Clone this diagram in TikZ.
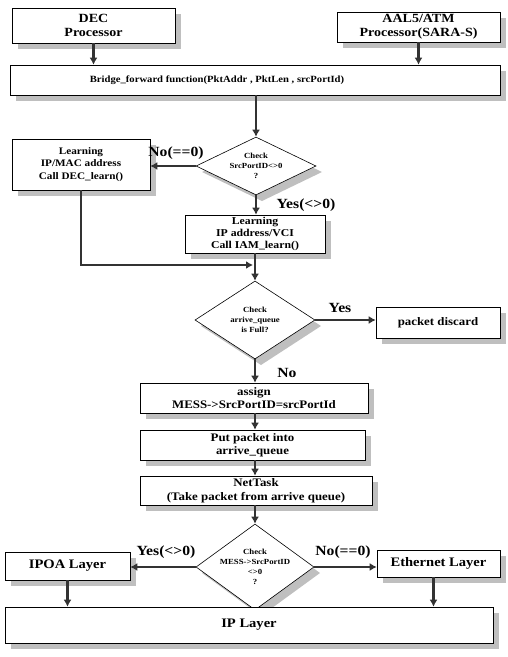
\documentclass[tikz,border=0pt]{standalone}
\usepackage{fontspec}
\setmainfont[FakeStretch=1.12]{Liberation Serif}
\usetikzlibrary{shapes.geometric,arrows.meta}
\begin{document}
\begin{tikzpicture}[x=1pt,y=-1pt,
  proc/.style={draw=black,line width=0.6pt,fill=white,inner sep=0pt,align=center,
    font=\bfseries\fontsize{11.5}{13.5}\selectfont},
  decision/.style={diamond,draw=black,line width=0.6pt,fill=white,inner sep=0pt},
  dtext/.style={align=center,inner sep=0pt,font=\bfseries\fontsize{7.8}{9.8}\selectfont},
  lbl/.style={inner sep=0pt,font=\bfseries\fontsize{14}{16}\selectfont},
  flow/.style={draw=black!80,line width=2.4pt,-{Latex[length=7pt,width=8pt]}},
]
\useasboundingbox (0,0) rectangle (508,657);

% shades laid down first, offset 6pt right and down from each box or diamond
\fill[gray!50] (18,14) rectangle (181,49);
\fill[gray!50] (343,18) rectangle (506,48);
\fill[gray!50] (16,71) rectangle (506,101);
\fill[gray!50] (18,145) rectangle (156,196);
\fill[gray!50] (191,221) rectangle (331,259);
\fill[gray!50] (382,313) rectangle (506,344);
\fill[gray!50] (146,389) rectangle (374,419);
\fill[gray!50] (146,436) rectangle (371,466);
\fill[gray!50] (146,482) rectangle (378,511);
\fill[gray!50] (11,558) rectangle (136,586);
\fill[gray!50] (383,556) rectangle (506,583);
\fill[gray!50] (11,613) rectangle (499,649);
\fill[gray!50] (262,143) -- (322,172) -- (262,201) -- (202,172) -- cycle;
\fill[gray!50] (261,287) -- (321,326) -- (261,365) -- (201,326) -- cycle;
\fill[gray!50] (261,530) -- (320,573) -- (261,616) -- (202,573) -- cycle;

% processors and bridge function
\node[proc,minimum width=163pt,minimum height=35pt,font=\bfseries\fontsize{12.5}{14}\selectfont] (dec) at (93.5,25.5) {DEC\\Processor};
\node[proc,minimum width=163pt,minimum height=30pt,font=\bfseries\fontsize{12.5}{14}\selectfont] (aal) at (418.5,27) {AAL5/ATM\\Processor(SARA-S)};
\node[proc,minimum width=490pt,minimum height=30pt] (bridge) at (255,80) {};
\node[inner sep=0pt,font=\bfseries\fontsize{9.5}{11}\selectfont] (bridget) at (217,80)
  {Bridge\_forward function(PktAddr , PktLen , srcPortId)};

% first check: source port
\node[decision,minimum width=120pt,minimum height=58pt] (d1) at (256,166) {};
\node[dtext] (d1t) at (d1.center) {Check\\SrcPortID<>0\\?};
\node[proc,minimum width=138pt,minimum height=51pt,font=\bfseries\fontsize{10}{12.5}\selectfont] (learn1) at (81,164.5)
  {Learning\\IP/MAC address\\Call DEC\_learn()};
\node[proc,minimum width=140pt,minimum height=38pt,font=\bfseries\fontsize{10.5}{12}\selectfont] (learn2) at (255,234)
  {Learning\\IP address/VCI\\Call IAM\_learn()};
\coordinate (join) at (253,265);

% second check: queue full
\node[decision,minimum width=120pt,minimum height=78pt] (d2) at (255,320) {};
\node[dtext] (d2t) at (d2.center) {Check\\arrive\_queue\\is Full?};
\node[proc,minimum width=124pt,minimum height=31pt] (discard) at (438,322.5) {packet discard};

% queueing steps
\node[proc,minimum width=228pt,minimum height=30pt] (assign) at (254,398) {assign\\MESS->SrcPortID=srcPortId};
\node[proc,minimum width=225pt,minimum height=30pt] (put) at (252.5,445) {Put packet into\\arrive\_queue};
\node[proc,minimum width=232pt,minimum height=29pt] (net) at (256,490.5) {NetTask\\(Take packet from arrive queue)};

% third check and layers
\node[decision,minimum width=118pt,minimum height=86pt] (d3) at (255,567) {};
\node[dtext] (d3t) at (d3.center) {Check\\MESS->SrcPortID\\<>0\\?};
\node[proc,minimum width=125pt,minimum height=28pt,font=\bfseries\fontsize{13}{15}\selectfont] (ipoa) at (67.5,566) {IPOA Layer};
\node[proc,minimum width=123pt,minimum height=27pt,font=\bfseries\fontsize{13}{15}\selectfont] (eth) at (438.5,563.5) {Ethernet Layer};
\node[proc,minimum width=488pt,minimum height=36pt,font=\bfseries\fontsize{13}{15}\selectfont] (ip) at (249,625) {IP Layer};

% connectors
\draw[flow] (dec.south) -- (dec.south |- bridge.north);
\draw[flow] (aal.south) -- (aal.south |- bridge.north);
\draw[flow] (bridge.south -| d1.north) -- (d1.north);
\draw[flow] (d1.west) -- (learn1.east |- d1.west);
\draw[flow] (d1.south) -- (d1.south |- learn2.north);
\draw[flow] (learn1.south) |- (join);
\draw[flow] (learn2.south) -- (learn2.south |- d2.north);
\draw[flow] (d2.east) -- (discard.west |- d2.east);
\draw[flow] (d2.south) -- (d2.south |- assign.north);
\draw[flow] (d2.south |- assign.south) -- (d2.south |- put.north);
\draw[flow] (d2.south |- put.south) -- (d2.south |- net.north);
\draw[flow] (d2.south |- net.south) -- (d3.north);
\draw[flow] (d3.west) -- (ipoa.east |- d3.west);
\draw[flow] (d3.east) -- (eth.west |- d3.east);
\draw[flow] (ipoa.south) -- (ipoa.south |- ip.north);
\draw[flow] ([xshift=-5pt]eth.south) -- ([xshift=-5pt]eth.south |- ip.north);

% branch labels
\node[lbl] (l1) at (176,153) {No(==0)};
\node[lbl] (l2) at (306,205) {Yes(<>0)};
\node[lbl] (l3) at (340,308) {Yes};
\node[lbl] (l4) at (287,373) {No};
\node[lbl] (l5) at (166,552) {Yes(<>0)};
\node[lbl] (l6) at (343,552) {No(==0)};
\end{tikzpicture}
\end{document}
